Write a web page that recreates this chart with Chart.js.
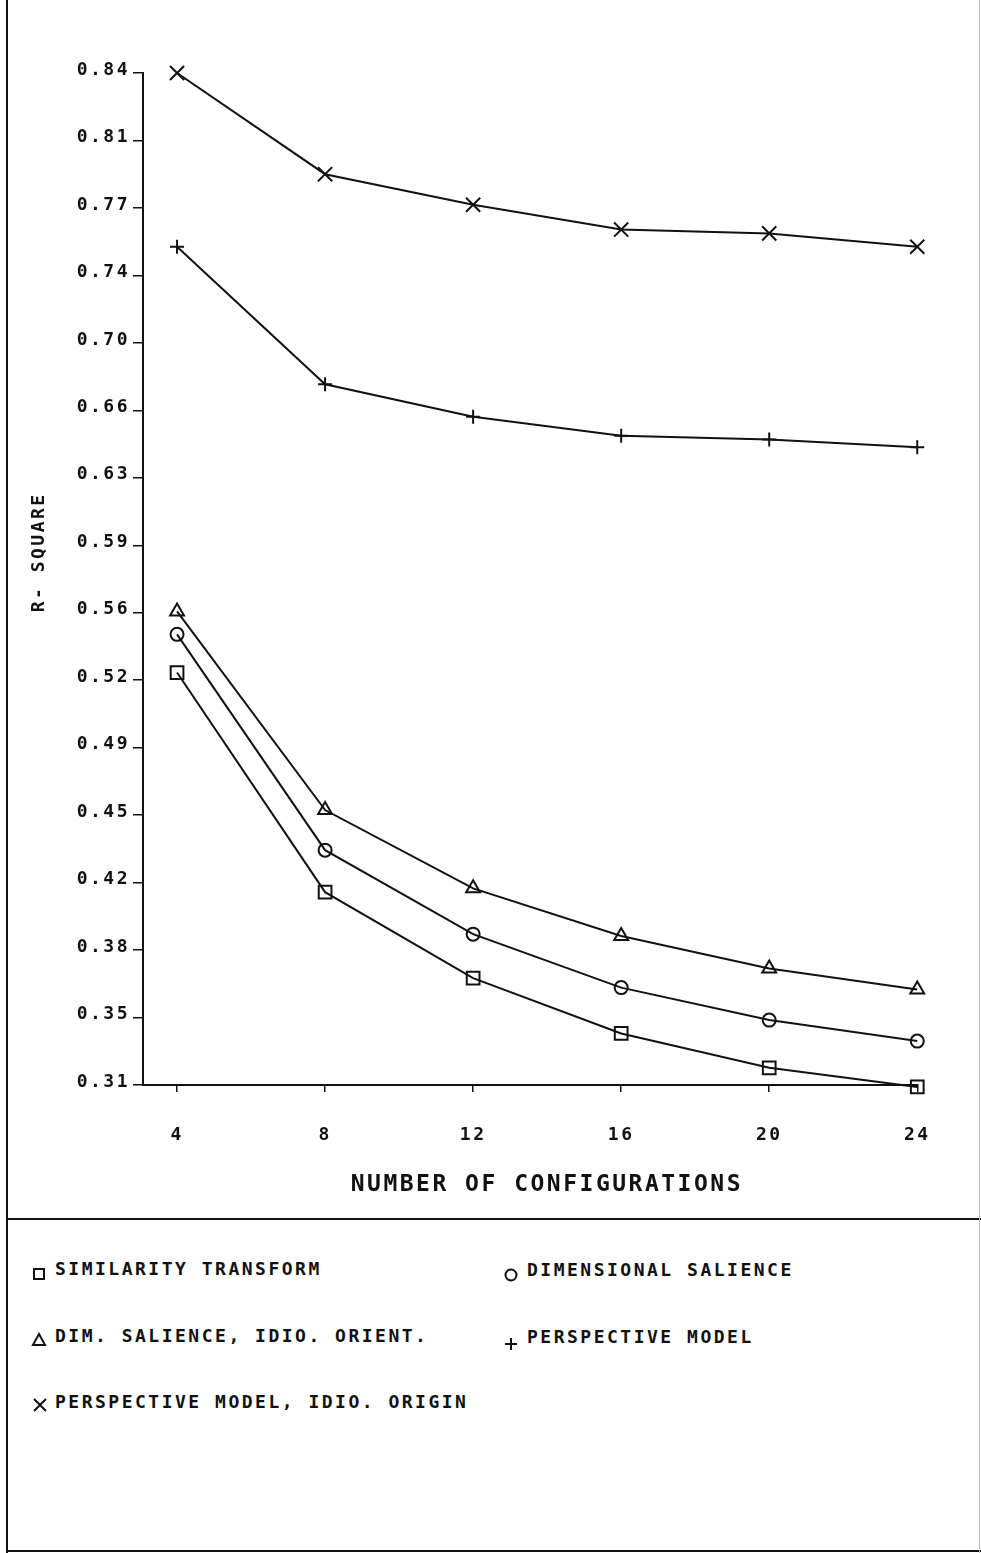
<!DOCTYPE html>
<html>
<head>
<meta charset="utf-8">
<script src="https://cdn.jsdelivr.net/npm/chart.js@4.4.1/dist/chart.umd.min.js"></script>
<style>
  html, body { margin: 0; padding: 0; background: #fff; }
  body { width: 981px; height: 1553px; position: relative; overflow: hidden; font-family: "DejaVu Sans Mono", monospace; color: #111; }
  #chart { position: absolute; left: 0; top: 0; }
  .rule { position: absolute; background: #111; }
  .leg { position: absolute; font-size: 18px; font-weight: bold; line-height: 18px; letter-spacing: 2.5px; white-space: pre; }
  .sym { position: absolute; }
</style>
</head>
<body>
<canvas id="chart" width="981" height="1218"></canvas>
<div class="rule" style="left:6px;top:0;width:2px;height:1553px"></div>
<div class="rule" style="left:6px;top:1218px;width:975px;height:2px"></div>
<div class="rule" style="left:6px;top:1550px;width:975px;height:2px"></div>
<div class="rule" style="left:979px;top:0;width:1px;height:1553px;background:#bbb"></div>
<div id="legend"></div>
<script>
// number of configurations
const xValues = [4, 8, 12, 16, 20, 24];
const xTickValues = [4, 8, 12, 16, 20, 24];
const yTickLabels = ["0.31", "0.35", "0.38", "0.42", "0.45", "0.49", "0.52", "0.56",
  "0.59", "0.63", "0.66", "0.70", "0.74", "0.77", "0.81", "0.84"];
const yMin = 0.31;
const yMax = 0.84;

// r-square per model
const similarityTransform = [0.526, 0.411, 0.366, 0.337, 0.319, 0.309];
const dimensionalSalience = [0.546, 0.433, 0.389, 0.361, 0.344, 0.333];
const dimSalienceIdioOrient = [0.558, 0.454, 0.413, 0.388, 0.371, 0.360];
const perspectiveModel = [0.749, 0.677, 0.660, 0.650, 0.648, 0.644];
const perspectiveIdioOrigin = [0.840, 0.787, 0.771, 0.758, 0.756, 0.749];

const seriesNames = ["SIMILARITY TRANSFORM", "DIMENSIONAL SALIENCE", "DIM. SALIENCE, IDIO. ORIENT.",
  "PERSPECTIVE MODEL", "PERSPECTIVE MODEL, IDIO. ORIGIN"];
const seriesValues = [similarityTransform, dimensionalSalience, dimSalienceIdioOrient,
  perspectiveModel, perspectiveIdioOrigin];

const INK = "#111";
const markers = [
  { style: "rect", radius: 9 },
  { style: "circle", radius: 6.5 },
  { style: "triangle", radius: 8 },
  { style: "cross", radius: 7 },
  { style: "crossRot", radius: 10 },
];

const datasets = seriesNames.map((name, i) => ({
  label: name,
  data: xValues.map((x, j) => ({ x: x, y: seriesValues[i][j] })),
  borderColor: INK,
  borderWidth: 2,
  backgroundColor: "transparent",
  pointStyle: markers[i].style,
  pointRadius: markers[i].radius,
  pointBorderWidth: 2,
  pointBorderColor: INK,
  pointBackgroundColor: "transparent",
  tension: 0,
  clip: false,
}));

const font = { family: "'DejaVu Sans Mono', monospace", size: 18, weight: "bold" };
const bigFont = { family: "'DejaVu Sans Mono', monospace", size: 23, weight: "bold" };

// plotter lettering is wide, so space the canvas text out
const spacing = {
  id: "spacing",
  beforeDraw(chart) {
    chart.ctx.letterSpacing = "2.5px";
  },
};

function noPad(scale) {
  scale.paddingLeft = 0;
  scale.paddingRight = 0;
  scale.paddingTop = 0;
  scale.paddingBottom = 0;
}

new Chart(document.getElementById("chart"), {
  type: "line",
  data: { datasets: datasets },
  plugins: [spacing],
  options: {
    responsive: false,
    animation: false,
    devicePixelRatio: 1,
    layout: { padding: { left: 0, top: 73, right: 63, bottom: 0 } },
    plugins: { legend: { display: false }, tooltip: { enabled: false } },
    scales: {
      x: {
        type: "linear",
        min: 3.08,
        max: 24.02,
        afterBuildTicks(scale) {
          scale.ticks = xTickValues.map((v) => ({ value: v }));
        },
        afterFit(scale) {
          scale.height = 133;
          noPad(scale);
        },
        ticks: {
          color: INK,
          font: font,
          padding: 33,
          maxRotation: 0,
          autoSkip: false,
          callback: (v) => String(v),
        },
        grid: { drawOnChartArea: false, drawTicks: true, tickLength: 7, color: INK, lineWidth: 1.5 },
        border: { display: true, color: INK, width: 2 },
        title: {
          display: true,
          text: "  NUMBER OF CONFIGURATIONS",
          color: INK,
          font: bigFont,
          padding: { top: 0, bottom: 19 },
        },
      },
      y: {
        type: "linear",
        min: yMin,
        max: yMax,
        afterBuildTicks(scale) {
          const n = yTickLabels.length - 1;
          scale.ticks = yTickLabels.map((_, i) => ({ value: yMin + (i * (yMax - yMin)) / n }));
        },
        afterFit(scale) {
          scale.width = 143;
          noPad(scale);
        },
        ticks: {
          color: INK,
          font: font,
          padding: 3,
          labelOffset: -3,
          autoSkip: false,
          callback: (v, i) => yTickLabels[i],
        },
        grid: { drawOnChartArea: false, drawTicks: true, tickLength: 10, color: INK, lineWidth: 1.5 },
        border: { display: true, color: INK, width: 2 },
        title: {
          display: true,
          text: "    R- SQUARE",
          color: INK,
          font: font,
          padding: { top: 29, bottom: 0 },
        },
      },
    },
  },
});

// legend box under the plot, two columns like the original
const legendSpots = [
  { x: 55, y: 1260, sx: 39, sy: 1274 },
  { x: 527, y: 1261, sx: 511, sy: 1275 },
  { x: 55, y: 1327, sx: 39, sy: 1340 },
  { x: 527, y: 1328, sx: 511, sy: 1344 },
  { x: 55, y: 1393, sx: 40, sy: 1405 },
];

function symbolSvg(style) {
  const s = 'stroke="#111" stroke-width="2" fill="none"';
  if (style === "rect") return `<rect x="3" y="3" width="10" height="10" ${s}/>`;
  if (style === "circle") return `<circle cx="8" cy="8" r="5.5" ${s}/>`;
  if (style === "triangle") return `<polygon points="8,2 14,13 2,13" ${s}/>`;
  if (style === "cross") return `<path d="M8 2 V14 M2 8 H14" ${s}/>`;
  return `<path d="M2 2 L14 14 M14 2 L2 14" ${s}/>`;
}

const legend = document.getElementById("legend");
seriesNames.forEach((name, i) => {
  const p = legendSpots[i];
  const t = document.createElement("div");
  t.className = "leg";
  t.style.left = p.x + "px";
  t.style.top = p.y + "px";
  t.textContent = name;
  legend.appendChild(t);
  const sym = document.createElement("div");
  sym.className = "sym";
  sym.style.left = p.sx - 8 + "px";
  sym.style.top = p.sy - 8 + "px";
  sym.innerHTML = `<svg width="16" height="16" viewBox="0 0 16 16">${symbolSvg(markers[i].style)}</svg>`;
  legend.appendChild(sym);
});
</script>
</body>
</html>
